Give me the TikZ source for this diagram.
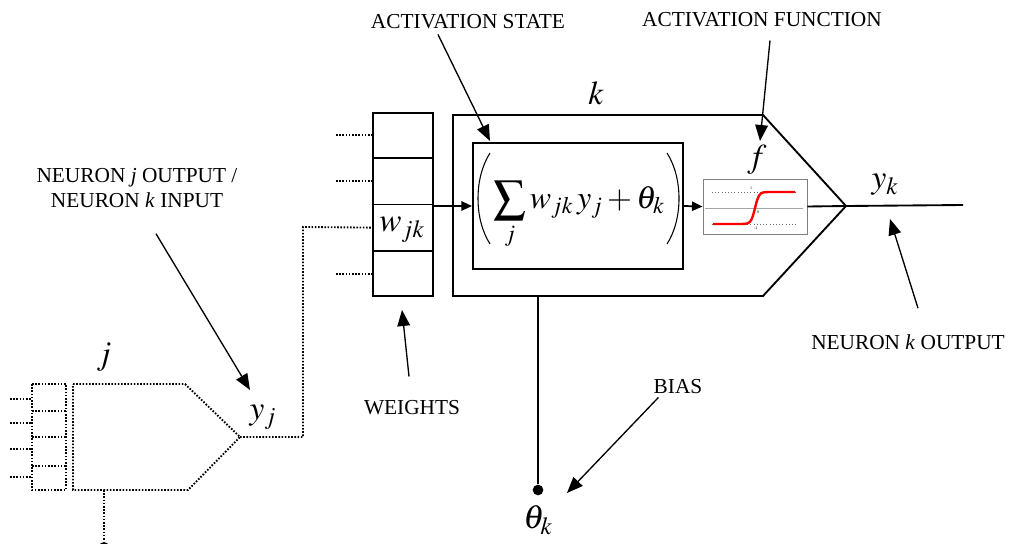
\documentclass[tikz,border=0pt]{standalone}
\usepackage{mathptmx}
\usepackage{fontspec}
\setmainfont{Liberation Serif}
\usetikzlibrary{arrows.meta,positioning,calc}
\tikzset{
  lbl/.style={font=\fontsize{16}{18.5}\selectfont, inner sep=0pt, align=center},
  sym/.style={font=\fontsize{25}{28}\selectfont, inner sep=0pt},
  pointer/.style={-{Triangle[length=12pt,width=9.5pt]}, line width=1pt},
  flow/.style={-{Triangle[length=8pt,width=7pt]}, line width=1.3pt},
  unit/.style={draw, line width=1.4pt, inner sep=0pt},
  dotline/.style={line width=1.4pt, dash pattern=on 1.2pt off 1.2pt},
}

\begin{document}
\begin{tikzpicture}[x=0.75pt, y=-0.75pt]
  \useasboundingbox (0,0) rectangle (1012,543);
  % neuron j (dotted)
  \begin{scope}[dotline]
    \draw (32,384) rectangle (66,490);
    \foreach \yy in {411,437,466}
      \draw (32,\yy) -- (66,\yy);
    \foreach \yy in {399,423,449,477}
      \draw (10,\yy) -- (32,\yy);
    \coordinate (jtip) at (240,437);
    \draw (73,384) -- (185,384) -- (jtip) -- (188,490) -- (73,490) -- cycle;
    \draw (104,490) -- (104,540);
  \end{scope}
  \fill (104,547) circle (5);
  \node[sym] (jlbl) at (104,357) {$j$};
  \node[sym] (yj) at (263,417) {$y_j$};

  % weights column
  \node[unit, minimum width=45pt, minimum height=137.25pt] (wts) at (403,204.5) {};
  \foreach \t in {0.25,0.5,0.75}
    \draw[line width=1.4pt] ($(wts.north west)!\t!(wts.south west)$) -- ($(wts.north east)!\t!(wts.south east)$);
  \node[sym] (wjk) at (402,230) {$w_{jk}$};
  \foreach \t in {0.125,0.375,0.875}
    \draw[dotline] ($(wts.north west)!\t!(wts.south west)+(-36,0)$) -- ($(wts.north west)!\t!(wts.south west)$);
  \draw[dotline] (jtip) -- (303,437) -- (303,227) -- ($(wts.north west)!0.625!(wts.south west)$);

  % neuron k
  \coordinate (ktip) at (846,206);
  \draw[line width=1.4pt] (453,115) -- (763,115) -- (ktip) -- (763,296) -- (453,296) -- cycle;
  \node[sym] (klbl) at (596,93) {$k$};
  \node[unit, minimum width=157.5pt, minimum height=94.5pt] (act) at (578,206) {};
  \node[font=\fontsize{24}{28}\selectfont, inner sep=0pt] (sumf) at (579,215)
    {$\displaystyle\sum_j w_{jk}\,y_j + \theta_k$};
  % tall thin brackets
  \draw[line width=0.8pt] (490,153) .. controls (474,178) and (474,219) .. (490,244);
  \draw[line width=0.8pt] (667,153) .. controls (683,178) and (683,219) .. (667,244);
  % activation function box
  \node[draw=gray, line width=0.6pt, minimum width=78pt, minimum height=41.25pt, inner sep=0pt] (sig) at (755,206.5) {};
  \draw[gray!70, line width=0.4pt] (705,208) -- (803,208);
  \draw[black!60, line width=0.4pt, dotted] (712,192) -- (797,192);
  \draw[black!60, line width=0.4pt, dotted] (712,224) -- (797,224);
  \node[font=\fontsize{3}{3}\selectfont, inner sep=0pt] (one) at (751,188) {1};
  \node[font=\fontsize{3}{3}\selectfont, inner sep=0pt] (zero) at (758,212) {0};
  \node[font=\fontsize{3}{3}\selectfont, inner sep=0pt] (mone) at (756,228) {-1};
  \draw[red, line width=1.8pt] (713,224) -- plot[domain=-4:4, samples=41] ({755+4*\x}, {208-16*tanh(\x)}) -- (795,192);
  \node[sym] (flbl) at (757,160) {$f$};

  % signal flow
  \draw[flow] (wts.east |- act.west) -- (act.west);
  \draw[flow] (act.east) -- (sig.west);
  \draw[line width=1.4pt] (sig.east) -- (ktip);
  \coordinate (kend) at (963,205);
  \draw[line width=1.4pt] (ktip) -- (kend);
  \node[sym] (yk) at (885,185) {$y_k$};

  % bias
  \coordinate (bstart) at (538,296);
  \node[circle, fill, inner sep=0pt, minimum size=8pt] (bdot) at (538,490) {};
  \draw[line width=1pt] (bstart) -- (bdot);
  \node[sym] (theta) at (538,520) {$\theta_k$};

  % labels
  \node[lbl] (actstate) at (468,22) {ACTIVATION STATE};
  \node[lbl] (actfun) at (762,20) {ACTIVATION FUNCTION};
  \node[lbl] (jout) at (137,188) {NEURON \textit{j} OUTPUT /\\NEURON \textit{k} INPUT};
  \node[lbl] (wlbl) at (412,408) {WEIGHTS};
  \node[lbl] (blbl) at (678,387) {BIAS};
  \node[lbl] (koutlbl) at (908,342) {NEURON \textit{k} OUTPUT};

  % pointers
  \coordinate (p1) at (490,141);
  \coordinate (p2) at (760,141);
  \coordinate (p3) at (250,390);
  \coordinate (p4) at (402,310);
  \coordinate (p5) at (567,493);
  \coordinate (p6) at (890,219);
  \draw[pointer] ($(actstate.south)+(-30,5)$) -- (p1);
  \draw[pointer] ($(actfun.south)+(8,13)$) -- (p2);
  \draw[pointer] ($(jout.south)+(19,26)$) -- (p3);
  \draw[pointer] ($(wlbl.north)+(-3,-24)$) -- (p4);
  \draw[pointer] ($(blbl.south west)+(5,3)$) -- (p5);
  \draw[pointer] ($(koutlbl.north)+(10,-26)$) -- (p6);
\end{tikzpicture}
\end{document}
